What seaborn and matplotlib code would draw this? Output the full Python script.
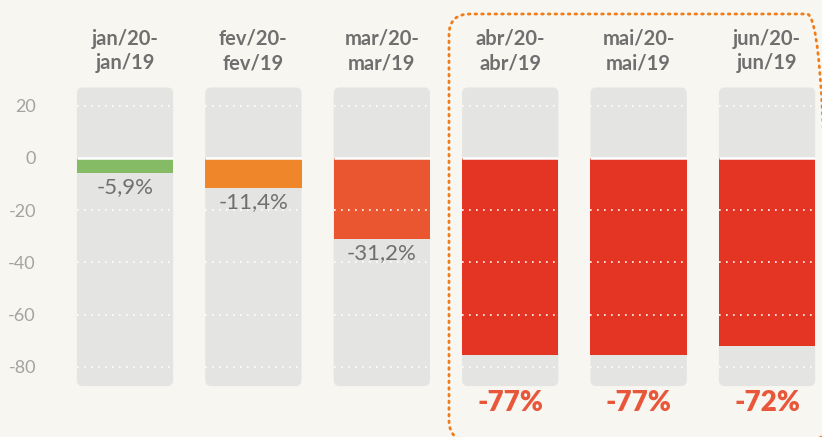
import numpy as np
import pandas as pd
import seaborn as sns
import matplotlib.pyplot as plt
from matplotlib.patches import FancyBboxPatch

# Data
periods = ['jan/20-\njan/19', 'fev/20-\nfev/19', 'mar/20-\nmar/19',
           'abr/20-\nabr/19', 'mai/20-\nmai/19', 'jun/20-\njun/19']
bar_values = [-5.9, -11.4, -31.2, -75.5, -75.5, -72.0]
value_labels = ['-5,9%', '-11,4%', '-31,2%', '-77%', '-77%', '-72%']
highlighted = [False, False, False, True, True, True]
bar_colors = ['#85bb65', '#f0862a', '#e9562f', '#e33424', '#e33424', '#e33424']
y_ticks = [20, 0, -20, -40, -60, -80]

# Style
bg_color = '#f7f6f0'
column_color = '#e4e4e2'
gray_text = '#6f6f6f'
tick_gray = '#a3a3a3'
accent = '#e9573a'
col_top, col_bottom = 27, -87.4
bar_width = 0.75

sns.set_style('white')
plt.rcParams['font.family'] = ['Lato', 'DejaVu Sans']
plt.rcParams['axes.unicode_minus'] = False

fig = plt.figure(figsize=(8.22, 4.37), dpi=100, facecolor=bg_color)
ax = fig.add_axes([45 / 822, 0, 1 - 45 / 822, 1])
ax.set_facecolor('none')

df = pd.DataFrame({'Period': periods, 'Value': bar_values})
sns.barplot(data=df, x='Period', y='Value', hue='Period', palette=bar_colors,
            width=bar_width, saturation=1, legend=False, linewidth=0, ax=ax, zorder=2)

ax.set_xlim(-0.623, 5.428)
ax.set_ylim(-106.9, 60.5)

# grey rounded column backgrounds
for i in range(len(periods)):
    ax.add_patch(FancyBboxPatch((i - bar_width / 2, col_bottom), bar_width, col_top - col_bottom,
                                boxstyle='round,pad=0,rounding_size=0.047', mutation_aspect=49,
                                fc=column_color, ec='none', zorder=0.5))
    # dotted gridlines inside each column
    for t in y_ticks:
        if t == 0:
            ax.hlines(t, i - bar_width / 2, i + bar_width / 2, colors='white', lw=1.8, zorder=4)
        else:
            ax.hlines(t, i - bar_width / 2, i + bar_width / 2, colors='white', lw=1.2,
                      linestyles=(0, (1, 3.2)), zorder=3)
    # period label on top
    ax.text(i, 41, periods[i], ha='center', va='center', fontsize=14.5, fontweight='bold',
            color=gray_text, linespacing=1.3)
    # value labels
    if highlighted[i]:
        ax.text(i, -94, value_labels[i], ha='center', va='center', fontsize=20,
                fontweight='heavy', color=accent)
    else:
        ax.text(i, bar_values[i] - 1.5, value_labels[i], ha='center', va='top',
                fontsize=16, color=gray_text)

ax.set_yticks(y_ticks)
ax.set_xticks([])
ax.set_xlabel('')
ax.set_ylabel('')
ax.tick_params(axis='y', length=0, pad=6.5, labelsize=13, labelcolor=tick_gray)
sns.despine(ax=ax, left=True, bottom=True)

# dotted highlight frame around the last three months
frame = FancyBboxPatch((449 / 822, -4 / 437), (828 - 449) / 822, (437 - 14 + 4) / 437,
                       boxstyle='round,pad=0,rounding_size=%f' % (21 / 822),
                       mutation_aspect=822 / 437, transform=fig.transFigure,
                       fill=False, ec='#f07d1a', lw=2, ls=(0, (0.6, 1.8)),
                       capstyle='round', clip_on=False)
fig.add_artist(frame)

fig.savefig('out.png', dpi=100, facecolor=bg_color)
